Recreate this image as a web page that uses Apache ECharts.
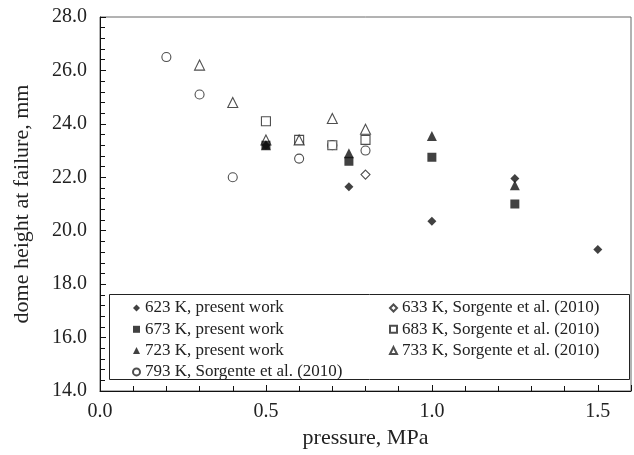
<!DOCTYPE html>
<html><head><meta charset="utf-8">
<script src="https://cdn.jsdelivr.net/npm/echarts@6/dist/echarts.min.js"></script>
<style>html,body{margin:0;padding:0;background:#fff}#c{width:634px;height:455px}</style>
</head><body><div id="c"></div>
<script>
const seriesNames = ['623 K, present work','673 K, present work','723 K, present work','793 K, Sorgente et al. (2010)',
  '633 K, Sorgente et al. (2010)','683 K, Sorgente et al. (2010)','733 K, Sorgente et al. (2010)'];
const k623 = [[0.5,23.2],[0.75,21.65],[1.0,20.35],[1.25,21.95],[1.5,19.3]];
const k673 = [[0.5,23.2],[0.75,22.6],[1.0,22.75],[1.25,21.0]];
const k723 = [[0.5,23.2],[0.75,22.9],[1.0,23.55],[1.25,21.7]];
const k793 = [[0.2,26.5],[0.3,25.1],[0.4,22.0],[0.6,22.7],[0.7,23.2],[0.8,23.0]];
const k633 = [[0.8,22.1]];
const k683 = [[0.5,24.1],[0.6,23.4],[0.7,23.2],[0.8,23.4]];
const k733 = [[0.3,26.2],[0.4,24.8],[0.5,23.4],[0.6,23.4],[0.7,24.2],[0.8,23.8]];
const xTicks = [0, 0.5, 1.0, 1.5];
const yTicks = [14,16,18,20,22,24,26,28];

const font = 'Liberation Serif';
const dataSets = [k623,k673,k723,k793,k633,k683,k733];
const symbols = ['diamond','rect','triangle','circle','diamond','rect','triangle'];
const filled = [true,true,true,false,false,false,false];
const sizes = [9,9,10,9,9,9,10];
const series = dataSets.map((d,i)=>({
  name: seriesNames[i], type:'scatter', data:d, symbol:symbols[i], symbolSize:sizes[i],
  itemStyle: filled[i] ? {color:'#111', borderColor:'#111', borderWidth:0}
                       : {color:'#fff', borderColor:'#222', borderWidth:1.1},
  z: filled[i] ? 3 : 2
}));
const legendBase = {
  orient:'vertical', top:299.5, itemWidth:7, itemHeight:7, itemGap:4.3,
  textStyle:{fontFamily:font, fontSize:17, color:'#222', lineHeight:17},
  selectedMode:false, padding:0
};
const chart = echarts.init(document.getElementById('c'), null, {renderer:'canvas'});
chart.setOption({
  animation:false,
  grid:{left:100, top:17, right:-5, bottom:64, show:true, borderColor:'#666', borderWidth:1},
  xAxis:{type:'value', min:0, max:1.6, interval:0.5,
    name:'pressure, MPa', nameLocation:'middle', nameGap:33,
    nameTextStyle:{fontFamily:font, fontSize:22, color:'#222'},
    axisLine:{lineStyle:{color:'#111', width:1}},
    axisTick:{inside:true, length:6, lineStyle:{color:'#111'}},
    minorTick:{show:true, splitNumber:5, length:5, lineStyle:{color:'#111'}},
    splitLine:{show:false},
    axisLabel:{fontFamily:font, fontSize:20, color:'#222', margin:11,
      formatter:v=> xTicks.some(t=>Math.abs(t-v)<1e-9) ? v.toFixed(1) : ''}
  },
  yAxis:{type:'value', min:14, max:28, interval:2,
    name:'dome height at failure, mm', nameLocation:'middle', nameGap:67,
    nameTextStyle:{fontFamily:font, fontSize:22, color:'#222'},
    axisLine:{show:true, lineStyle:{color:'#111', width:1}},
    axisTick:{inside:true, length:6, lineStyle:{color:'#111'}},
    minorTick:{show:true, splitNumber:5, length:5, lineStyle:{color:'#111'}},
    splitLine:{show:false},
    axisLabel:{fontFamily:font, fontSize:20, color:'#222', margin:13,
      formatter:v=> yTicks.includes(v) ? v.toFixed(1) : ''}
  },
  legend:[
    Object.assign({}, legendBase, {left:132, data:seriesNames.slice(0,4)}),
    Object.assign({}, legendBase, {left:389, data:seriesNames.slice(4)})
  ],
  graphic:[{type:'rect', shape:{x:109.5, y:294.5, width:520, height:85},
    style:{fill:'#fff', stroke:'#222', lineWidth:1}, z:-1, zlevel:0}],
  series: series
});
</script></body></html>
